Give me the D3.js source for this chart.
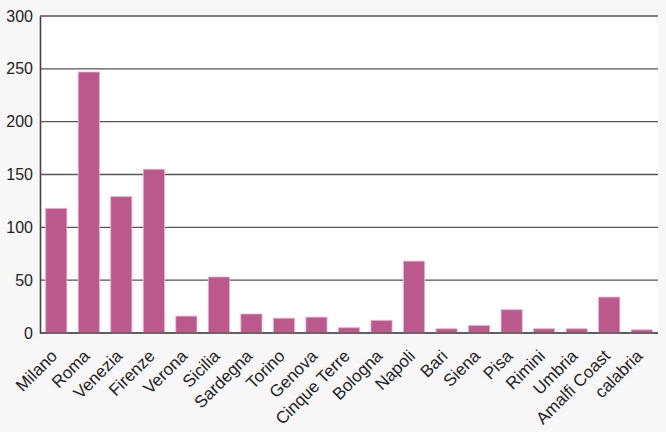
<!DOCTYPE html>
<html>
<head>
<meta charset="utf-8">
<script src="https://cdn.jsdelivr.net/npm/d3@7"></script>
<style>
  html, body { margin: 0; padding: 0; background: #f7f7f7; }
  svg { display: block; }
</style>
</head>
<body>
<div id="chart"></div>
<script>
const cities = ["Milano", "Roma", "Venezia", "Firenze", "Verona", "Sicilia", "Sardegna", "Torino",
    "Genova", "Cinque Terre", "Bologna", "Napoli", "Bari", "Siena", "Pisa", "Rimini", "Umbria",
    "Amalfi Coast", "calabria"];
const counts = [118, 247, 129, 155, 16, 53, 18, 14, 15, 5, 12, 68, 4, 7, 22, 4, 4, 34, 3];
const y_ticks = [0, 50, 100, 150, 200, 250, 300];

function draw_chart() {
    const width = 666, height = 432;
    const margin = {top: 16, right: 8, bottom: 99, left: 40};
    const plot_w = width - margin.left - margin.right,
          plot_h = height - margin.top - margin.bottom;

    const data = cities.map((c, i) => ({city: c, count: counts[i]}));

    const svg = d3.select("#chart").append("svg")
        .attr("width", width)
        .attr("height", height);

    const g = svg.append("g")
        .attr("transform", `translate(${margin.left}, ${margin.top})`);

    const scale_x = d3.scaleBand()
        .domain(cities)
        .range([0, plot_w])
        .paddingInner(0.35)
        .paddingOuter(0.175);

    const scale_y = d3.scaleLinear()
        .domain([0, 300])
        .range([plot_h, 0]);

    g.append("rect")
        .attr("width", plot_w)
        .attr("height", plot_h)
        .attr("fill", "#ffffff");

    // gridlines
    g.append("g")
        .selectAll("line")
        .data(y_ticks)
        .join("line")
        .attr("x1", 0)
        .attr("x2", plot_w)
        .attr("y1", d => scale_y(d))
        .attr("y2", d => scale_y(d))
        .attr("stroke", "#555")
        .attr("stroke-width", 1.4);

    g.selectAll(".bar")
        .data(data)
        .join("rect")
        .attr("class", "bar")
        .attr("x", d => scale_x(d.city))
        .attr("y", d => scale_y(d.count))
        .attr("width", scale_x.bandwidth())
        .attr("height", d => scale_y(0) - scale_y(d.count))
        .attr("fill", "#bb598c")
        .attr("stroke", "#eab0d0")
        .attr("stroke-width", 0.8);

    // baseline redraw over bars
    g.append("line")
        .attr("x1", 0).attr("x2", plot_w)
        .attr("y1", scale_y(0)).attr("y2", scale_y(0))
        .attr("stroke", "#555")
        .attr("stroke-width", 1.4);

    const y_axis = g.append("g")
        .call(d3.axisLeft(scale_y).tickValues(y_ticks).tickSize(0).tickPadding(7));
    y_axis.select(".domain").attr("stroke", "#444").attr("stroke-width", 1.6);
    y_axis.selectAll("text")
        .style("font-size", "16px")
        .style("font-family", "Liberation Sans, Arial, sans-serif")
        .attr("fill", "#222");

    const x_axis = g.append("g")
        .attr("transform", `translate(0, ${plot_h})`)
        .call(d3.axisBottom(scale_x).tickSize(0));
    x_axis.select(".domain").remove();
    x_axis.selectAll("text")
        .style("font-size", "17px")
        .style("font-family", "Liberation Sans, Arial, sans-serif")
        .attr("fill", "#222")
        .attr("text-anchor", "end")
        .attr("y", 0)
        .attr("dy", "0")
        .attr("transform", "translate(2, 24) rotate(-45)");
}
draw_chart();
</script>
</body>
</html>
